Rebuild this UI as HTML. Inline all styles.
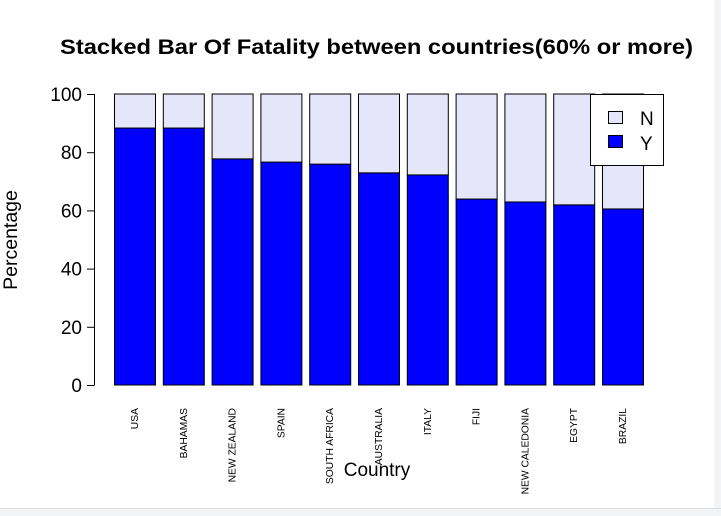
<!DOCTYPE html>
<html><head><meta charset="utf-8"><style>
html,body{margin:0;padding:0;background:#fff;}
svg{display:block;font-family:"Liberation Sans",Arial,sans-serif;}
</style></head><body>
<svg id="chart" width="721" height="516">
<rect x="0" y="508" width="721" height="8" fill="#f3f4f6"/>
<line x1="0" y1="508.5" x2="721" y2="508.5" stroke="#dcdcdc"/>
<rect x="714" y="0" width="7" height="508" fill="#f3f4f6"/>
<text x="60" y="54" font-size="21" font-weight="bold" textLength="633" lengthAdjust="spacingAndGlyphs">Stacked Bar Of Fatality between countries(60% or more)</text>
<text x="17" y="240" text-anchor="middle" font-size="19.5" transform="rotate(-90 17 240)">Percentage</text>
<text x="377" y="476" text-anchor="middle" font-size="19">Country</text>
<g id="yaxis"></g>
<g id="bars"></g>
<g id="xlabels"></g>
<g>
<rect x="590.5" y="94.5" width="73" height="71" fill="#fff" stroke="#000"/>
<rect x="608.5" y="111.5" width="14" height="12" fill="#e6e6fa" stroke="#000"/>
<text x="640" y="125" font-size="19">N</text>
<rect x="608.5" y="135.5" width="14" height="12" fill="#0000ff" stroke="#000"/>
<text x="640" y="150" font-size="19">Y</text>
</g>
</svg>
<script>
const categories = ["USA","BAHAMAS","NEW ZEALAND","SPAIN","SOUTH AFRICA","AUSTRALIA","ITALY","FIJI","NEW CALEDONIA","EGYPT","BRAZIL"];
const seriesY = [88.3,88.3,77.7,76.6,75.9,72.9,72.2,63.9,62.9,61.9,60.5];
const seriesN = seriesY.map(v => 100 - v);
const yTicks = [0,20,40,60,80,100];
const NS = "http://www.w3.org/2000/svg";
const y0 = 385, y100 = 94;
function yScale(v){ return y0 - (y0 - y100) * v / 100; }
const barStart = 114, step = 48.8, barW = 41;
function xScale(i){ return barStart + i * step; }
function mk(tag, attrs, parent){ const e=document.createElementNS(NS,tag); for(const k in attrs) e.setAttribute(k,attrs[k]); parent.appendChild(e); return e; }
const ya = document.getElementById('yaxis');
let l = mk('line',{x1:94.5,x2:94.5,y1:yScale(0),y2:yScale(100),stroke:'#000'},ya);


yTicks.forEach(t=>{
  const tk = mk('line',{x1:87,x2:94.5,y1:yScale(t)+0.5,y2:yScale(t)+0.5,stroke:'#000'},ya);
  
  
  const tx = mk('text',{x:82,y:yScale(t)+7,'text-anchor':'end','font-size':19},ya);
  tx.textContent = t;
  
  
});
const bg = document.getElementById('bars'), xl = document.getElementById('xlabels');
categories.forEach((c,i)=>{
  const x = xScale(i)+0.5;
  const ry = mk('rect',{x:x,y:yScale(seriesY[i]),width:barW,height:yScale(0)-yScale(seriesY[i]),fill:'#0000ff',stroke:'#000','stroke-width':1},bg);
  
  
  const rn = mk('rect',{x:x,y:yScale(100),width:barW,height:yScale(seriesY[i])-yScale(100),fill:'#e6e6fa',stroke:'#000','stroke-width':1},bg);
  
  
  const cx = xScale(i)+barW/2+3.5, cy = 408;
  const t = mk('text',{x:cx,y:cy,'text-anchor':'end','font-size':10.3,transform:`rotate(-90 ${cx} ${cy})`},xl);
  t.textContent = c;
  
  
});
</script>
</body></html>
